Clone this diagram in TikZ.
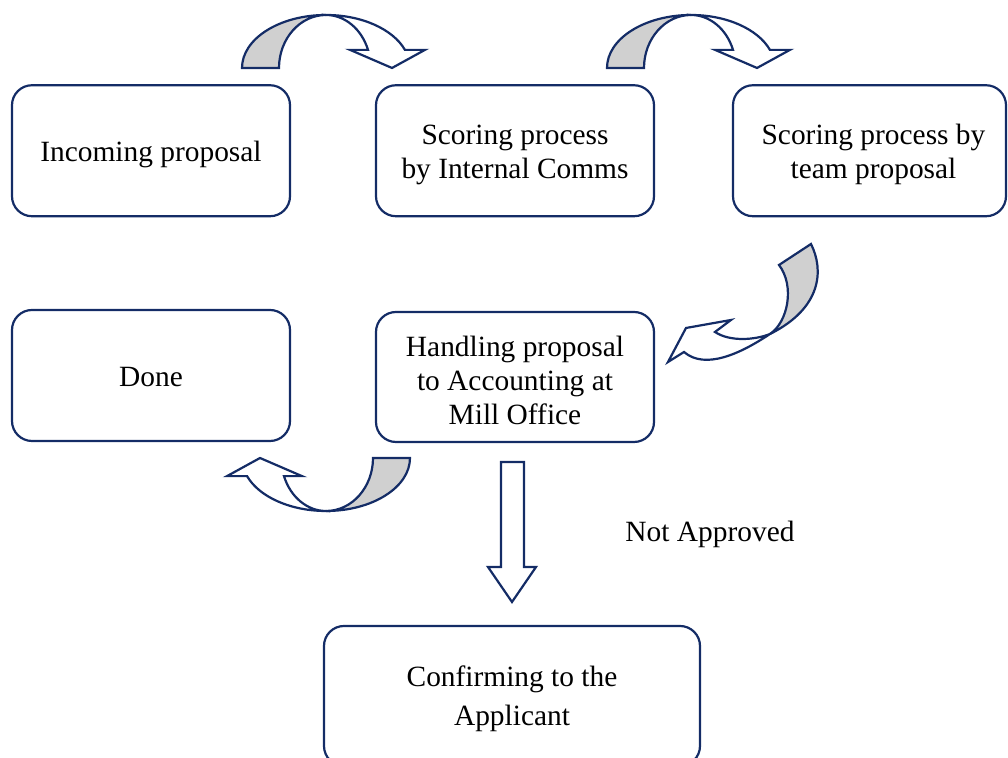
\documentclass[tikz,border=0pt]{standalone}
\usepackage{fontspec}
\setmainfont{Liberation Serif}
\usepackage{tikz}
\usepackage{xcolor}
\usetikzlibrary{positioning}
\definecolor{FlowNavy}{HTML}{142C66}
\definecolor{FlowGray}{HTML}{D0D0D0}

% bent block arrow, drawn around the centre of its arc
\newcommand{\bentarrow}{%
  \filldraw[arrowline, fill=FlowGray] (-84,0) arc (180:90:84 and 53) arc (90:180:47 and 53) -- cycle;
  \filldraw[arrowline, fill=white] (0,53) arc (90:20:84 and 53) -- (99,18.13) -- (66,0) -- (24,18.13) -- (42,18.13) arc (20:90:44.7 and 53) -- cycle;
}

\begin{document}
\begin{tikzpicture}[x=0.5pt, y=0.5pt,
    stepbox/.style={draw=FlowNavy, line width=1.1pt, rounded corners=10pt,
      minimum width=139pt, minimum height=65.5pt, inner sep=0pt},
    steptext/.style={align=center, inner sep=1pt, font=\fontsize{14.7}{17}\selectfont},
    arrowline/.style={draw=FlowNavy, line width=1.1pt, line join=miter}]
            \useasboundingbox (0,0) rectangle (1008,758);

            % Boxes
            \node[stepbox] (incoming) at (151,607.25) {};
            \node[stepbox] (intcomms) at (515,607.25) {};
            \node[stepbox, minimum width=136.5pt] (teamscore) at (869.5,607.25) {};
            \node[stepbox] (done) at (151,382.5) {};
            \node[stepbox, minimum height=65pt] (handling) at (515,381) {};
            \node[stepbox, minimum width=188pt, minimum height=70pt] (confirm) at (512,62) {};

            % Box texts
            \node[steptext] (incoming-t) at ([yshift=-2pt]incoming.center) {Incoming proposal};
            \node[steptext] (intcomms-t) at ([yshift=-2pt]intcomms.center) {Scoring process\\by Internal Comms};
            \node[steptext] (teamscore-t) at ([xshift=2pt,yshift=-2pt]teamscore.center) {Scoring process by\\team proposal};
            \node[steptext] (done-t) at ([yshift=-1pt]done.center) {Done};
            \node[steptext] (handling-t) at ([yshift=-1.5pt]handling.center) {Handling proposal\\to Accounting at\\Mill Office};
            \node[steptext, font=\fontsize{14.7}{19.5}\selectfont] (confirm-t) at ([yshift=-1.5pt]confirm.center) {Confirming to the\\Applicant};

            \node[steptext] (notok) at (710,224) {Not Approved};

            % Bent arrows
            \begin{scope}[shift={(326,690)}] \bentarrow \end{scope}
            \begin{scope}[shift={(691,690)}] \bentarrow \end{scope}
            \begin{scope}[shift={(326,300)}, rotate=180] \bentarrow \end{scope}

            \filldraw[arrowline, fill=FlowGray] (811,514) .. controls (824,488) and (822,450) .. (770,424)
              .. controls (788,436) and (795,472) .. (779,493) -- cycle;
            \filldraw[arrowline, fill=white] (770,424) .. controls (755,418) and (730,416) .. (715,426)
              -- (731,438) -- (686,430) -- (668,396) -- (684,406)
              .. controls (705,388) and (740,404) .. (770,424) -- cycle;

            % Down arrow
            \draw[arrowline] (501,296) -- (524,296) -- (524,191) -- (536,191) -- (512,156)
              -- (488,191) -- (501,191) -- cycle;
        \end{tikzpicture}
\end{document}
